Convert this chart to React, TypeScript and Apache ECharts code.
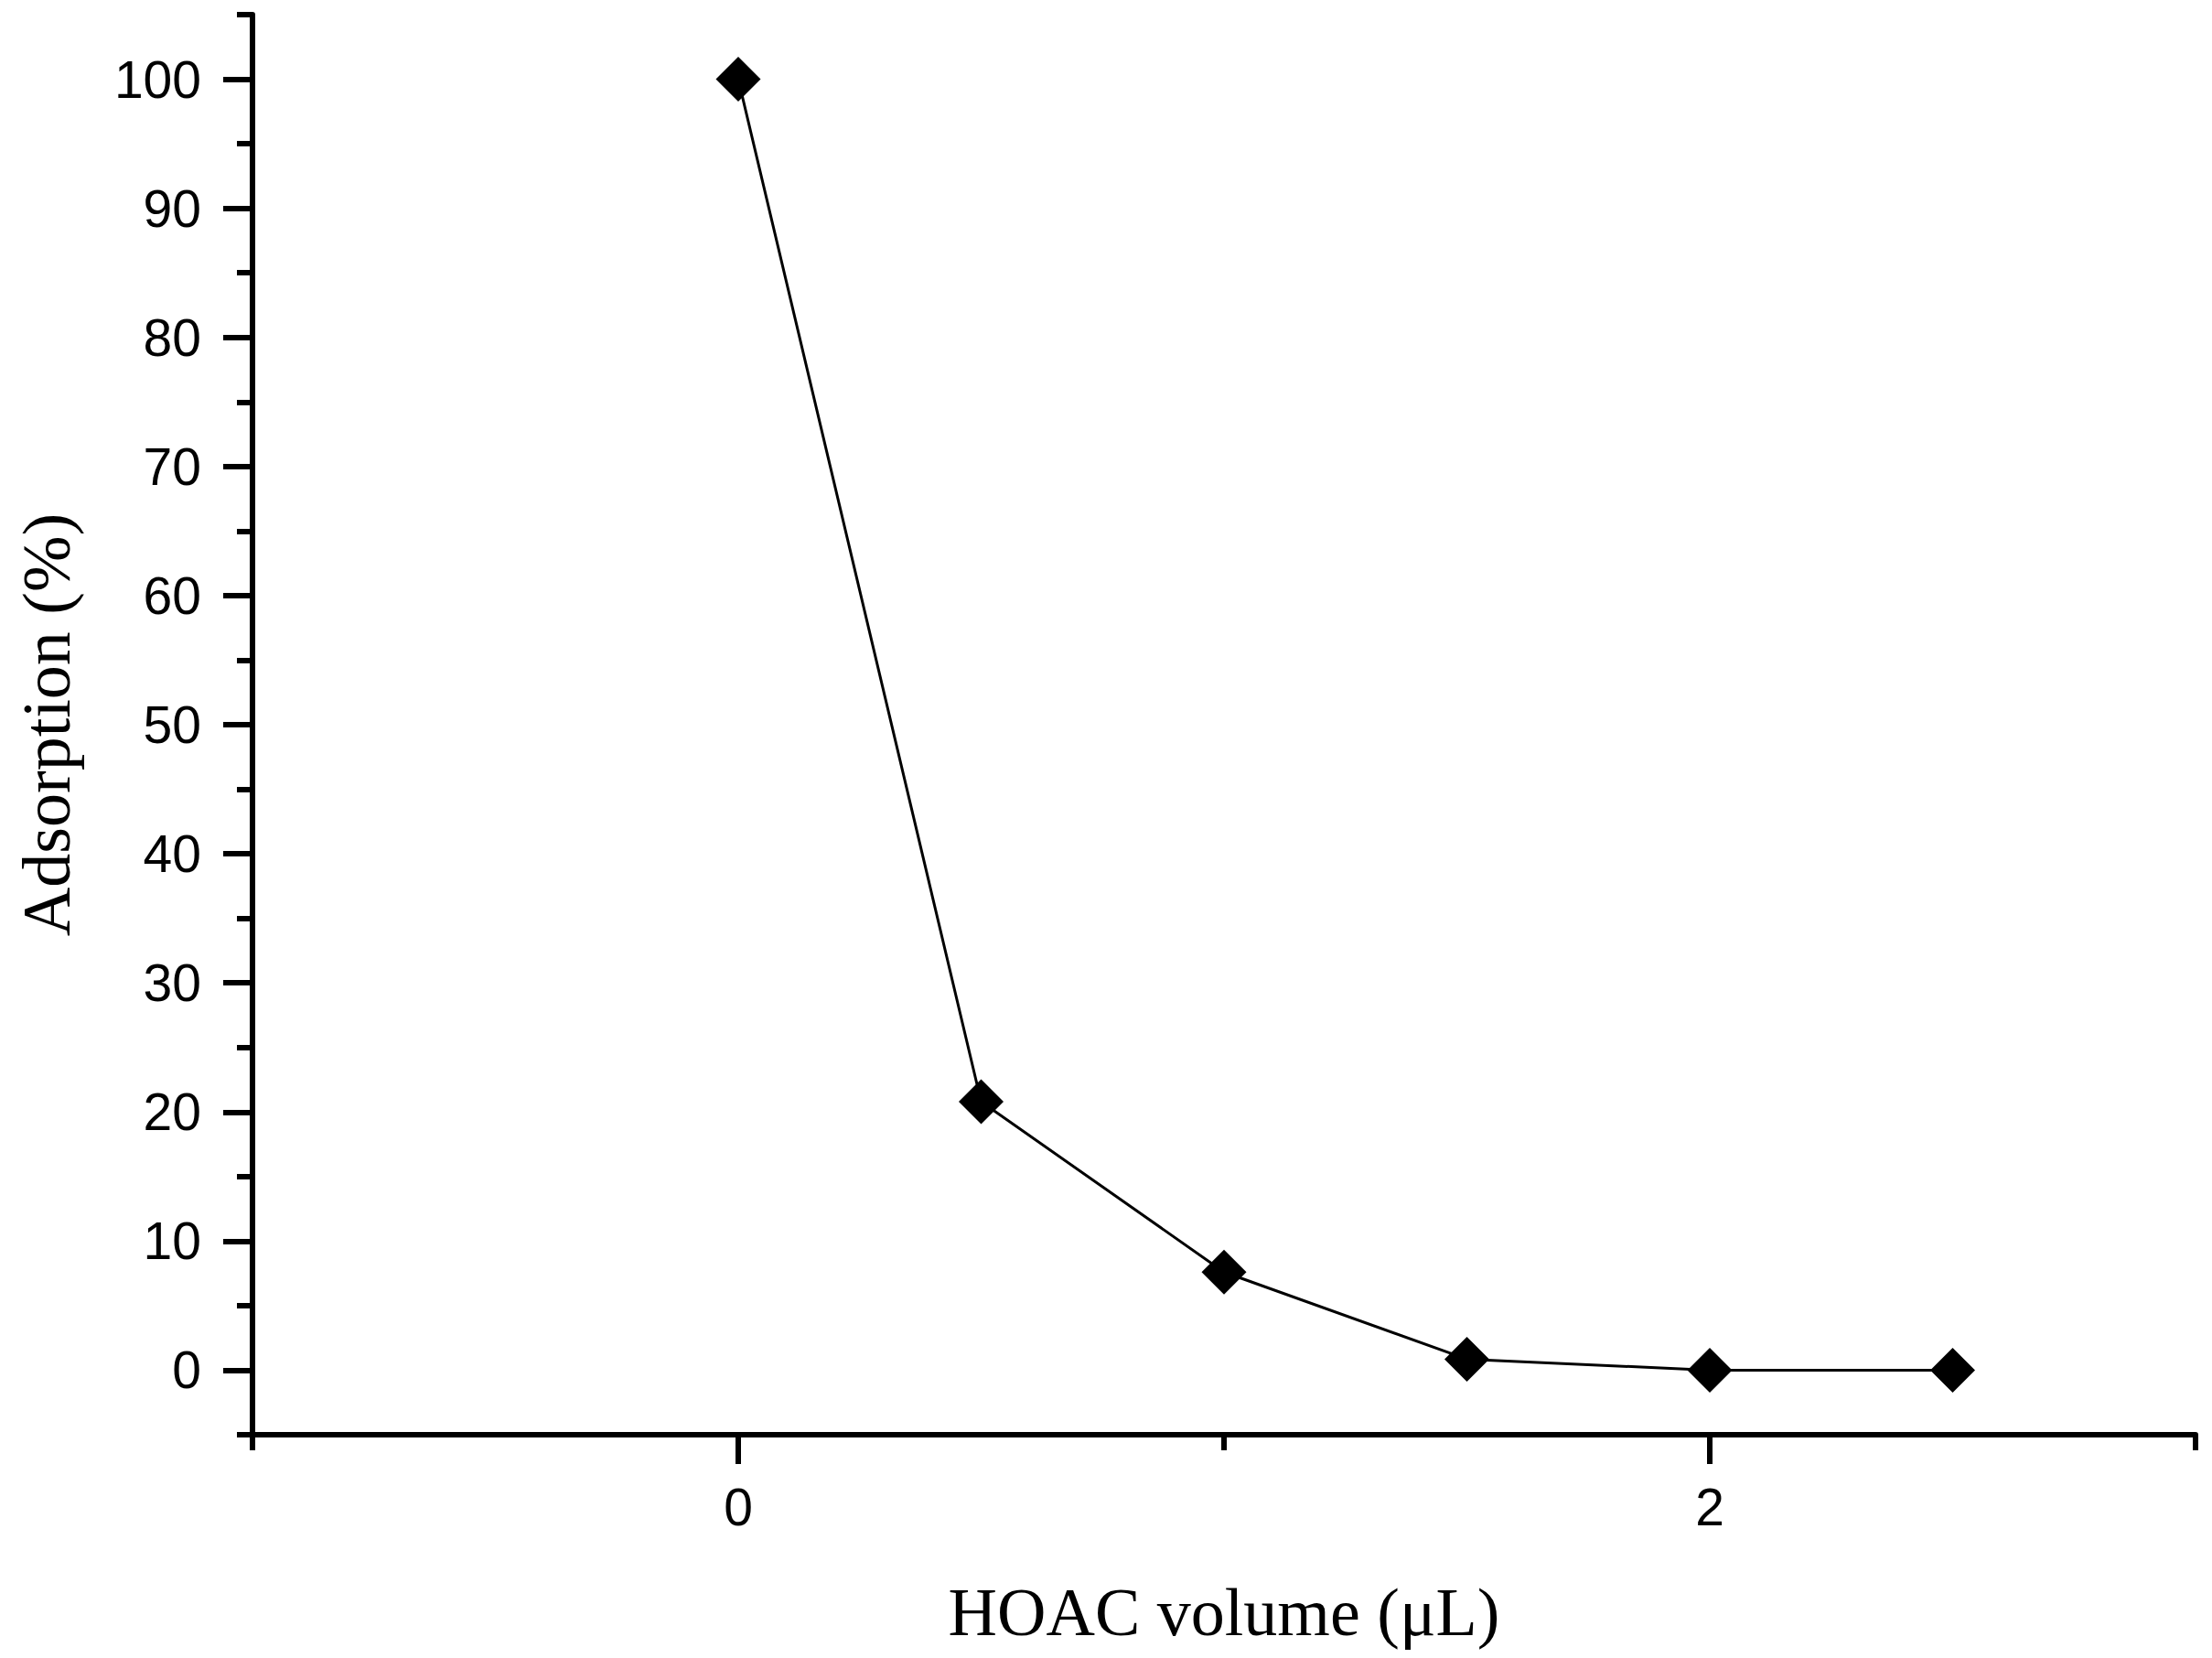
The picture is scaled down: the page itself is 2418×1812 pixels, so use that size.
import React, { useEffect, useRef } from "react";
import * as echarts from "echarts";

const xValues = [0, 0.5, 1, 1.5, 2, 2.5];
const adsorption = [100, 20.8, 7.6, 0.85, 0, 0];
const xMajorTicks = [0, 2];
const xMinorTicks = [-1, 1, 3];
const yMajorTicks = [0, 10, 20, 30, 40, 50, 60, 70, 80, 90, 100];
const yMinorTicks = [-5, 5, 15, 25, 35, 45, 55, 65, 75, 85, 95, 105];

export default function App() {
  const ref = useRef<HTMLDivElement>(null);
  useEffect(() => {
    document.body.style.margin = "0";
    document.body.style.overflow = "hidden";
    if (!ref.current) return;
    const chart = echarts.init(ref.current, undefined, { renderer: "svg" });
    const black = "#000";
    const tickFont = { fontFamily: "Liberation Sans", fontSize: 57, color: black };
    const titleFont = { fontFamily: "Liberation Serif", fontSize: 74, color: black };
    chart.setOption({
      animation: false,
      backgroundColor: "#fff",
      grid: { left: 276, right: 18, top: 16, bottom: 244 },
      xAxis: [
        {
          type: "value",
          min: -1,
          max: 3,
          position: "bottom",
          axisLine: { show: true, onZero: false, lineStyle: { color: black, width: 6 } },
          axisTick: { show: true, customValues: xMajorTicks, length: 32, lineStyle: { color: black, width: 6 } },
          axisLabel: { show: true, customValues: xMajorTicks, margin: 50, ...tickFont },
          splitLine: { show: false },
          name: "HOAC volume (\u03bcL)",
          nameLocation: "middle",
          nameGap: 157,
          nameTextStyle: titleFont,
        },
        {
          type: "value",
          min: -1,
          max: 3,
          position: "bottom",
          axisLine: { show: false, onZero: false },
          axisTick: { show: true, customValues: xMinorTicks, length: 17, lineStyle: { color: black, width: 6 } },
          axisLabel: { show: false },
          splitLine: { show: false },
        },
      ],
      yAxis: [
        {
          type: "value",
          min: -5,
          max: 105,
          position: "left",
          axisLine: { show: true, onZero: false, lineStyle: { color: black, width: 6 } },
          axisTick: { show: true, customValues: yMajorTicks, length: 32, lineStyle: { color: black, width: 6 } },
          axisLabel: { show: true, customValues: yMajorTicks, margin: 56, ...tickFont },
          splitLine: { show: false },
          name: "Adsorption (%)",
          nameLocation: "middle",
          nameGap: 188,
          nameTextStyle: titleFont,
        },
        {
          type: "value",
          min: -5,
          max: 105,
          position: "left",
          axisLine: { show: false, onZero: false },
          axisTick: { show: true, customValues: yMinorTicks, length: 17, lineStyle: { color: black, width: 6 } },
          axisLabel: { show: false },
          splitLine: { show: false },
        },
      ],
      series: [
        {
          type: "line",
          xAxisIndex: 0,
          yAxisIndex: 0,
          data: xValues.map((x, i) => [x, adsorption[i]]),
          symbol: "diamond",
          symbolSize: 49,
          itemStyle: { color: black },
          lineStyle: { color: black, width: 3 },
        },
      ],
    });
    return () => chart.dispose();
  }, []);
  return <div ref={ref} style={{ width: 2418, height: 1812 }} />;
}
